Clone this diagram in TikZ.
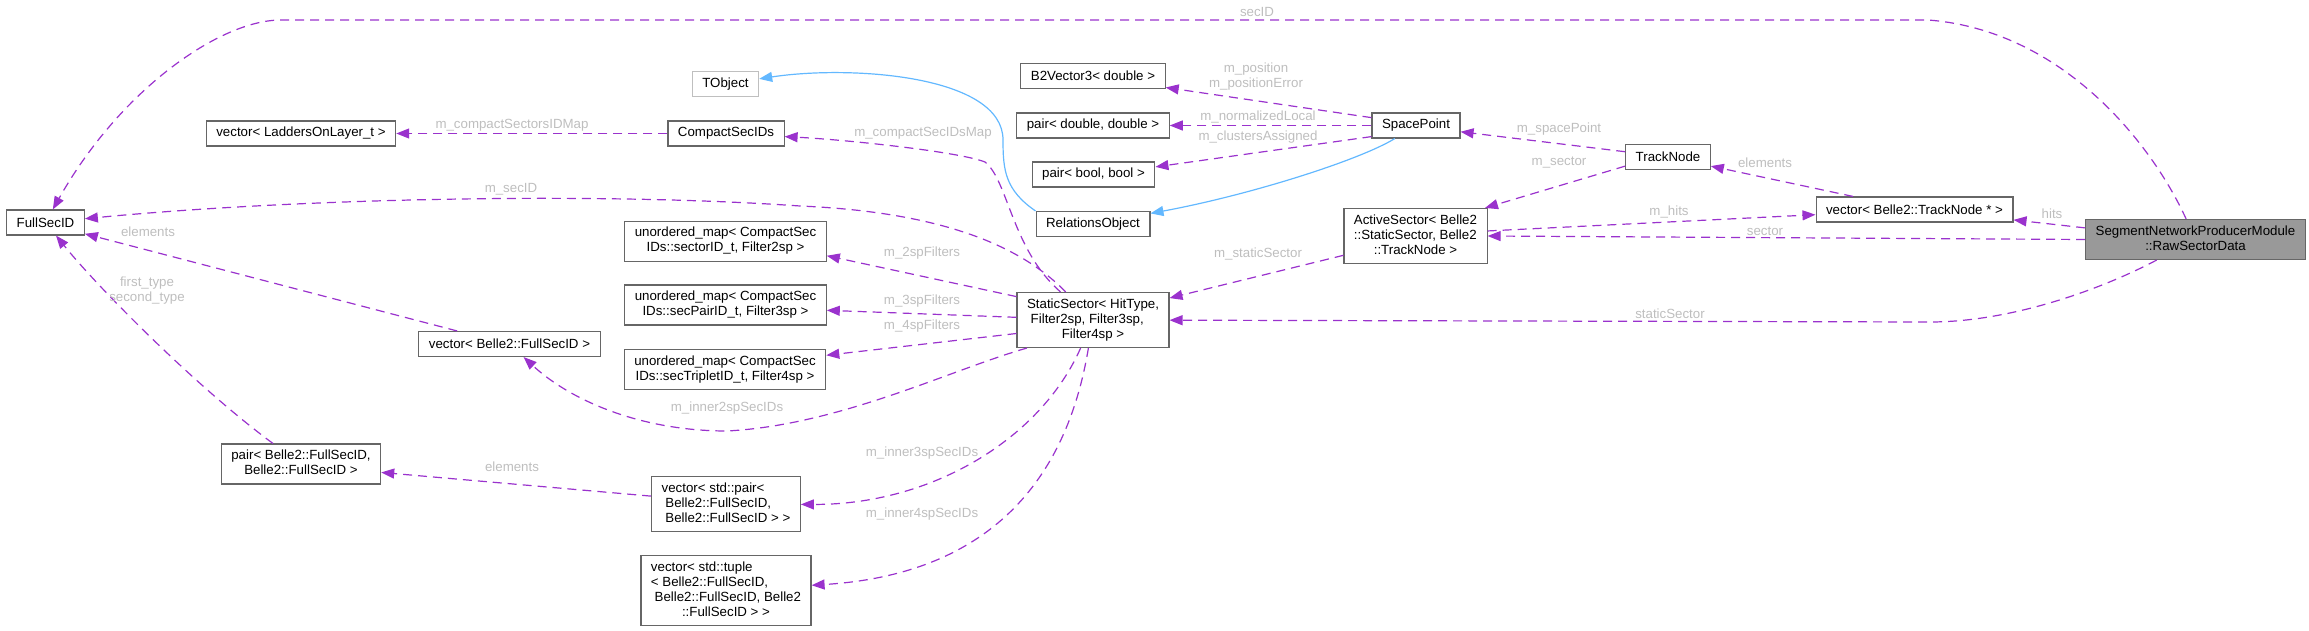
\documentclass[tikz,border=0pt]{standalone}
\usepackage{fontspec}
\setmainfont{Liberation Sans}
\usetikzlibrary{arrows.meta}
\definecolor{violetdox}{HTML}{9A32CD}
\definecolor{bleudox}{HTML}{63B8FF}
\definecolor{grisetiq}{HTML}{BEBEBE}
\definecolor{grisbord}{HTML}{666666}
\definecolor{grisclair}{HTML}{BFBFBF}
\definecolor{grisfond}{HTML}{999999}
\begin{document}
\begin{tikzpicture}[x=1pt,y=-1pt,font=\fontsize{13.3}{15}\selectfont]
\tikzstyle{boite}=[draw=grisbord, fill=white, line width=1.1pt, inner xsep=10pt, inner ysep=5pt, minimum height=25pt]
\tikzstyle{etiq}=[text=grisetiq, inner sep=0pt, align=center]
\tikzstyle{membre}=[draw=violetdox, line width=1.2pt, dash pattern=on 9pt off 6pt, -{Triangle[length=13pt,width=10pt]}]
\tikzstyle{herite}=[draw=bleudox, line width=1.2pt, -{Triangle[length=13pt,width=10pt]}]
\useasboundingbox (0,0) rectangle (2309,631);
\node[boite] (fsid) at (45.5,222.5) {FullSecID};
\node[boite, draw=grisclair] (tobj) at (725.5,84) {TObject};
\node[boite] (ladders) at (301,133.5) {vector< LaddersOnLayer\_t >};
\node[boite] (csid) at (726,133.5) {CompactSecIDs};
\node[boite] (um1) at (725.5,241.5) {\begin{tabular}{@{}c@{}}unordered\_map< CompactSec\\IDs::sectorID\_t, Filter2sp >\end{tabular}};
\node[boite] (um2) at (725.5,305) {\begin{tabular}{@{}c@{}}unordered\_map< CompactSec\\IDs::secPairID\_t, Filter3sp >\end{tabular}};
\node[boite] (um3) at (725,369.5) {\begin{tabular}{@{}c@{}}unordered\_map< CompactSec\\IDs::secTripletID\_t, Filter4sp >\end{tabular}};
\node[boite] (vfsid) at (509.5,344) {vector< Belle2::FullSecID >};
\node[boite] (pfsid) at (301,464) {\begin{tabular}{@{}c@{}}pair< Belle2::FullSecID,\\Belle2::FullSecID >\end{tabular}};
\node[boite] (vpair) at (726,504) {\begin{tabular}{@{}l@{}}vector< std::pair<\\~Belle2::FullSecID,\\~Belle2::FullSecID > >\end{tabular}};
\node[boite] (vtuple) at (726,590.5) {\begin{tabular}{@{}l@{}}vector< std::tuple\\< Belle2::FullSecID,\\~Belle2::FullSecID, Belle2\\\multicolumn{1}{@{}c@{}}{::FullSecID > >}\end{tabular}};
\node[boite] (ssec) at (1093,320) {\begin{tabular}{@{}l@{}}StaticSector< HitType,\\~Filter2sp, Filter3sp,\\\multicolumn{1}{@{}c@{}}{Filter4sp >}\end{tabular}};
\node[boite] (relobj) at (1093,224) {RelationsObject};
\node[boite] (b2v) at (1093,76) {B2Vector3< double >};
\node[boite] (pdd) at (1093,125.5) {pair< double, double >};
\node[boite] (pbb) at (1093.5,174.5) {pair< bool, bool >};
\node[boite] (spt) at (1416,125.5) {SpacePoint};
\node[boite] (asec) at (1415.5,236) {\begin{tabular}{@{}l@{}}ActiveSector< Belle2\\::StaticSector, Belle2\\\multicolumn{1}{@{}c@{}}{::TrackNode >}\end{tabular}};
\node[boite] (tnode) at (1668,157) {TrackNode};
\node[boite] (vtn) at (1914.5,209.5) {vector< Belle2::TrackNode * >};
\node[boite, fill=grisfond] (snpm) at (2195.5,239.5) {\begin{tabular}{@{}c@{}}SegmentNetworkProducerModule\\::RawSectorData\end{tabular}};
\draw[membre] (snpm) .. controls (2150,140) and (2060,30) .. (1928,20) -- (281,20) .. controls (220,20) and (120,90) .. (fsid);
\draw[membre] (snpm.174) -- (vtn.-6);
\draw[membre] (snpm.west) -- (asec.east);
\draw[membre] (snpm) .. controls (2100,290) and (2010,322) .. (1930,322) -- (ssec);
\draw[membre] (vtn.168.5) -- (tnode.-12);
\draw[membre] (asec.4) -- (vtn.-177);
\draw[membre] (tnode.-168) -- (asec.22);
\draw[membre] (tnode.173) -- (spt.-8);
\draw[membre] (spt.170) -- (b2v.-9);
\draw[membre] (spt) -- (pdd);
\draw[membre] (spt.-166) -- (pbb.7);
\draw[herite] (spt) .. controls (1360,160) and (1250,195) .. (relobj);
\draw[herite] (relobj.north west) .. controls (1005,190) and (1003,170) .. (1003,140) .. controls (1003,75) and (850,65) .. (tobj);
\draw[membre] (asec.-165) -- (ssec.16);
\draw[membre] (ssec) .. controls (1012,250) and (1008,180) .. (985,162) .. controls (960,152) and (850,140) .. (csid);
\draw[membre] (ssec) .. controls (1020,245) and (940,212) .. (800,206) .. controls (600,192) and (300,198) .. (fsid);
\draw[membre] (ssec.163) -- (um1.-8);
\draw[membre] (ssec.178) -- (um2.-3);
\draw[membre] (ssec.-170) -- (um3.8);
\draw[membre] (ssec.-157) .. controls (950,370) and (840,425) .. (727,431) .. controls (640,431) and (570,400) .. (vfsid);
\draw[membre] (ssec) .. controls (1040,440) and (930,505) .. (vpair);
\draw[membre] (ssec) .. controls (1065,490) and (980,575) .. (vtuple);
\draw[membre] (csid) -- (ladders);
\draw[membre] (vfsid.166) -- (fsid.-16);
\draw[membre] (pfsid) .. controls (200,390) and (100,290) .. (fsid);
\draw[membre] (vpair.174) -- (pfsid.-6);
\node[etiq] (lsecid) at (1257,12) {secID};
\node[etiq] (lhits) at (2052,214) {hits};
\node[etiq] (lsector) at (1765,231) {sector};
\node[etiq] (lstatic) at (1670,314) {staticSector};
\node[etiq] (lelemtn) at (1765,163) {elements};
\node[etiq] (lmhits) at (1669,212) {m\_hits};
\node[etiq] (lmsector) at (1559,163) {m\_sector};
\node[etiq] (lmsp) at (1559,129) {m\_spacePoint};
\node[etiq] (lmpos) at (1256,76.5) {m\_position\\m\_positionError};
\node[etiq] (lmnorm) at (1258,117) {m\_normalizedLocal};
\node[etiq] (lmclus) at (1258,137) {m\_clustersAssigned};
\node[etiq] (lmstat) at (1258,254) {m\_staticSector};
\node[etiq] (lmcsm) at (923,133) {m\_compactSecIDsMap};
\node[etiq] (lmsecid) at (511,189) {m\_secID};
\node[etiq] (l2sp) at (922,253) {m\_2spFilters};
\node[etiq] (l3sp) at (922,301) {m\_3spFilters};
\node[etiq] (l4sp) at (922,326) {m\_4spFilters};
\node[etiq] (li2) at (727,408) {m\_inner2spSecIDs};
\node[etiq] (li3) at (922,453) {m\_inner3spSecIDs};
\node[etiq] (li4) at (922,514) {m\_inner4spSecIDs};
\node[etiq] (lcsim) at (512,125) {m\_compactSectorsIDMap};
\node[etiq] (lelfs) at (148,232) {elements};
\node[etiq] (lfirst) at (147,291) {first\_type\\second\_type};
\node[etiq] (lelpair) at (512,467) {elements};
\end{tikzpicture}
\end{document}
